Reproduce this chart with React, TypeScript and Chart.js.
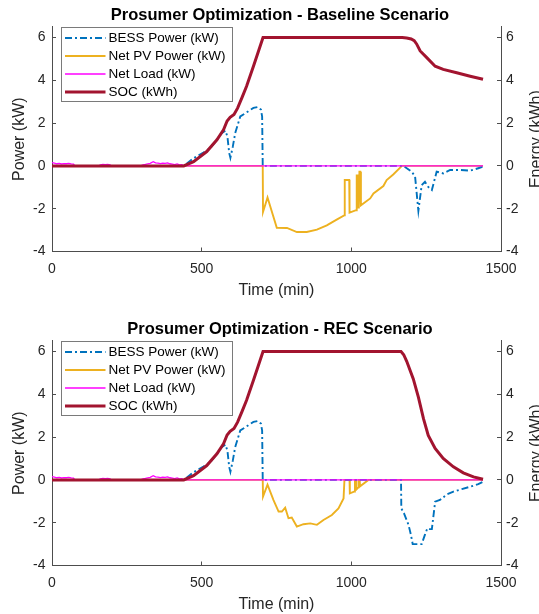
import React, { useEffect, useRef } from "react";
import { Chart, registerables } from "chart.js";

Chart.register(...registerables);

// ---------- ticks & labels ----------
const xTicks = [0, 500, 1000, 1500];
const yTicks = [-4, -2, 0, 2, 4, 6];
const seriesLabels = ["BESS Power (kW)", "Net PV Power (kW)", "Net Load (kW)", "SOC (kWh)"];
const titles = ["Prosumer Optimization - Baseline Scenario", "Prosumer Optimization - REC Scenario"];

// ---------- Baseline scenario ----------
const bessBaseT = [0, 440, 473, 506, 529, 551, 567, 579, 586, 592, 596, 604, 612, 629, 650, 673, 687, 698, 702, 704, 1174, 1202, 1213, 1224, 1235, 1246, 1257, 1269, 1285, 1307, 1330, 1363, 1397, 1424, 1440];
const bessBaseV = [0, 0, 0.36, 0.62, 0.83, 1.22, 1.53, 1.65, 1.37, 0.6, 0.38, 0.9, 1.53, 2.31, 2.5, 2.71, 2.75, 2.63, 2.31, 0, 0, -0.27, -0.5, -2.1, -0.9, -0.74, -0.98, -1.13, -0.27, -0.35, -0.19, -0.19, -0.22, -0.11, -0.04];

const pvBaseT = [0, 704, 705, 720, 751, 785, 818, 851, 885, 918, 951, 976, 978, 993, 994, 1016, 1018, 1021, 1022, 1025, 1027, 1030, 1032, 1063, 1074, 1107, 1118, 1140, 1169, 1440];
const pvBaseV = [0, 0, -2.15, -1.48, -2.89, -2.9, -3.09, -3.09, -2.98, -2.78, -2.51, -2.31, -0.66, -0.66, -2.18, -2.07, -0.45, -0.45, -1.95, -1.95, -0.27, -0.27, -1.84, -1.52, -1.29, -0.94, -0.66, -0.4, 0, 0];

const socBaseT = [0, 440, 473, 517, 551, 573, 585, 595, 608, 620, 635, 650, 673, 690, 705, 1170, 1185, 1200, 1210, 1218, 1230, 1252, 1280, 1307, 1352, 1397, 1440];
const socBaseV = [0, 0, 0.2, 0.67, 1.22, 1.69, 2.1, 2.27, 2.4, 2.7, 3.2, 3.72, 4.66, 5.37, 6, 6, 5.98, 5.93, 5.85, 5.7, 5.37, 5.06, 4.66, 4.51, 4.35, 4.19, 4.05];

// ---------- REC scenario ----------
const bessRecT = [0, 440, 473, 506, 529, 551, 567, 579, 586, 592, 596, 604, 612, 629, 650, 673, 687, 698, 702, 704, 1166, 1167, 1176, 1191, 1199, 1205, 1235, 1246, 1254, 1262, 1269, 1280, 1296, 1319, 1341, 1369, 1397, 1424, 1440];
const bessRecV = [0, 0, 0.36, 0.62, 0.83, 1.22, 1.53, 1.65, 1.37, 0.6, 0.38, 0.9, 1.53, 2.31, 2.5, 2.71, 2.75, 2.63, 2.31, 0, 0, -1.33, -1.56, -2.1, -2.56, -3.0, -3.0, -2.56, -2.26, -2.3, -2.3, -1.02, -0.94, -0.68, -0.55, -0.43, -0.32, -0.2, -0.09];

const pvRecT = [0, 704, 705, 720, 740, 757, 768, 779, 790, 801, 818, 840, 863, 885, 907, 935, 957, 974, 977, 994, 995, 1009, 1012, 1016, 1017, 1024, 1025, 1028, 1029, 1057, 1440];
const pvRecV = [0, 0, -0.78, -0.22, -0.94, -1.48, -1.48, -1.3, -1.79, -1.76, -2.18, -2.07, -2.03, -2.1, -1.87, -1.64, -1.33, -0.87, 0, 0, -0.63, -0.55, 0, 0, -0.45, -0.35, 0, 0, -0.3, 0, 0];

const socRecT = [0, 440, 473, 517, 551, 573, 585, 595, 608, 620, 635, 650, 673, 690, 705, 1166, 1175, 1185, 1207, 1224, 1241, 1257, 1280, 1307, 1341, 1374, 1408, 1440];
const socRecV = [0, 0, 0.2, 0.67, 1.22, 1.69, 2.1, 2.27, 2.4, 2.7, 3.2, 3.72, 4.66, 5.37, 6, 6, 5.85, 5.54, 4.72, 3.87, 2.86, 2.08, 1.47, 1.0, 0.61, 0.33, 0.14, 0.03];

// ---------- Net load (same in both scenarios) ----------
const loadT = [0, 8, 16, 24, 32, 40, 48, 56, 64, 72, 76, 155, 162, 170, 178, 186, 194, 198, 296, 304, 312, 320, 328, 338, 346, 354, 362, 370, 378, 386, 394, 402, 410, 418, 426, 434, 440, 1440];
const loadV = [0.15, 0.13, 0.1, 0.12, 0.09, 0.11, 0.1, 0.12, 0.09, 0.08, 0, 0, 0.05, 0.07, 0.06, 0.07, 0.05, 0, 0, 0.05, 0.07, 0.1, 0.12, 0.2, 0.14, 0.13, 0.11, 0.13, 0.12, 0.14, 0.1, 0.08, 0.06, 0.09, 0.05, 0.06, 0, 0];

const FONT = "'Liberation Sans', Arial, Helvetica, sans-serif";
const TXT = "#262626";
const AXIS = "#4d4d4d";
const CW = 560;
const CH = 314;

const pts = (t: number[], v: number[]) => t.map((x, i) => ({ x, y: v[i] }));
const plainTick = (v: any) => String(v);

const decorPlugin = {
  id: "decor",
  afterDraw(chart: any, _args: any, opts: any) {
    const { ctx, chartArea: a } = chart;
    ctx.save();
    // legend box
    const lx = Math.round(a.left + 9) + 0.5;
    const ly = Math.round(a.top) + 0.5;
    const lw = 171;
    const lh = 74;
    ctx.fillStyle = "#ffffff";
    ctx.fillRect(lx, ly, lw, lh);
    ctx.strokeStyle = "#7a7a7a";
    ctx.lineWidth = 1;
    ctx.strokeRect(lx, ly, lw, lh);
    chart.data.datasets.forEach((ds: any, i: number) => {
      const y = ly + 10.5 + 18 * i;
      ctx.beginPath();
      ctx.setLineDash(ds.borderDash || []);
      ctx.strokeStyle = ds.borderColor;
      ctx.lineWidth = ds.borderWidth;
      ctx.moveTo(lx + 3.5, y);
      ctx.lineTo(lx + 44, y);
      ctx.stroke();
      ctx.setLineDash([]);
      ctx.fillStyle = "#000";
      ctx.font = `13.5px ${FONT}`;
      ctx.textAlign = "left";
      ctx.textBaseline = "middle";
      ctx.fillText(ds.label, lx + 47, y);
    });
    // right axis title (reads bottom-to-top)
    ctx.translate(540.5, (a.top + a.bottom) / 2);
    ctx.rotate(-Math.PI / 2);
    ctx.textAlign = "center";
    ctx.textBaseline = "alphabetic";
    ctx.font = `16px ${FONT}`;
    ctx.fillStyle = TXT;
    ctx.fillText(opts.rightTitle, 0, 0);
    ctx.restore();
  },
};

function buildConfig(idx: number): any {
  const bess = idx === 0 ? pts(bessBaseT, bessBaseV) : pts(bessRecT, bessRecV);
  const pv = idx === 0 ? pts(pvBaseT, pvBaseV) : pts(pvRecT, pvRecV);
  const soc = idx === 0 ? pts(socBaseT, socBaseV) : pts(socRecT, socRecV);
  const load = pts(loadT, loadV);
  const yAxisCommon = {
    type: "linear",
    min: -4,
    max: 6.5,
    afterBuildTicks: (s: any) => {
      s.ticks = yTicks.map((v) => ({ value: v }));
    },
    grid: { drawOnChartArea: false, drawTicks: true, tickLength: -4, color: AXIS, lineWidth: 1 },
    border: { display: true, color: AXIS, width: 1 },
  };
  return {
    type: "line",
    data: {
      datasets: [
        { label: seriesLabels[0], data: bess, borderColor: "#0072BD", borderWidth: 1.9, borderDash: [7, 3, 2, 3], yAxisID: "y", order: 2 },
        { label: seriesLabels[1], data: pv, borderColor: "#EDB120", borderWidth: 1.9, yAxisID: "y", order: 3 },
        { label: seriesLabels[2], data: load, borderColor: "#FF00FF", borderWidth: 1.3, yAxisID: "y", order: 1 },
        { label: seriesLabels[3], data: soc, borderColor: "#A2142F", borderWidth: 3, yAxisID: "y2", order: 0 },
      ],
    },
    options: {
      responsive: false,
      animation: false,
      devicePixelRatio: 1,
      elements: { point: { radius: 0 }, line: { tension: 0, fill: false } },
      layout: { padding: 0 },
      plugins: {
        legend: { display: false },
        tooltip: { enabled: false },
        title: {
          display: true,
          text: titles[idx],
          color: "#000",
          font: { size: 16.5, weight: "bold", family: FONT },
          padding: { top: 5.2, bottom: 1.8 },
        },
        decor: { rightTitle: "Energy (kWh)" },
      },
      scales: {
        x: {
          type: "linear",
          min: 0,
          max: 1500,
          afterBuildTicks: (s: any) => {
            s.ticks = xTicks.map((v) => ({ value: v }));
          },
          afterFit: (s: any) => {
            s.height = 62.5;
          },
          grid: { drawOnChartArea: false, drawTicks: true, tickLength: -4, color: AXIS, lineWidth: 1 },
          border: { display: true, color: AXIS, width: 1 },
          ticks: { padding: 13.5, color: TXT, font: { size: 14, family: FONT }, maxRotation: 0, autoSkip: false, callback: plainTick },
          title: { display: true, text: "Time (min)", color: TXT, font: { size: 16, family: FONT }, padding: { top: 0, bottom: 13.5 } },
        },
        y: {
          ...yAxisCommon,
          position: "left",
          afterFit: (s: any) => {
            s.width = 52;
          },
          ticks: { padding: 10.5, color: TXT, font: { size: 14, family: FONT }, callback: plainTick },
          title: { display: true, text: "Power (kW)", color: TXT, font: { size: 16, family: FONT }, padding: { top: 10, bottom: 0 } },
        },
        y2: {
          ...yAxisCommon,
          position: "right",
          afterFit: (s: any) => {
            s.width = CW - 501;
          },
          ticks: { padding: 9, color: TXT, font: { size: 14, family: FONT }, callback: plainTick },
        },
      },
    },
    plugins: [decorPlugin],
  };
}

function Panel({ idx, top }: { idx: number; top: number }) {
  const ref = useRef<HTMLCanvasElement | null>(null);
  useEffect(() => {
    if (!ref.current) return;
    const chart = new Chart(ref.current, buildConfig(idx));
    return () => chart.destroy();
  }, [idx]);
  return (
    <canvas
      ref={ref}
      width={CW}
      height={CH}
      style={{ position: "absolute", left: 0, top, width: CW, height: CH, display: "block" }}
    />
  );
}

export default function App() {
  return (
    <div style={{ position: "absolute", left: 0, top: 0, width: 539, height: 614, overflow: "hidden", background: "#fff" }}>
      <Panel idx={0} top={0} />
      <Panel idx={1} top={314} />
    </div>
  );
}
